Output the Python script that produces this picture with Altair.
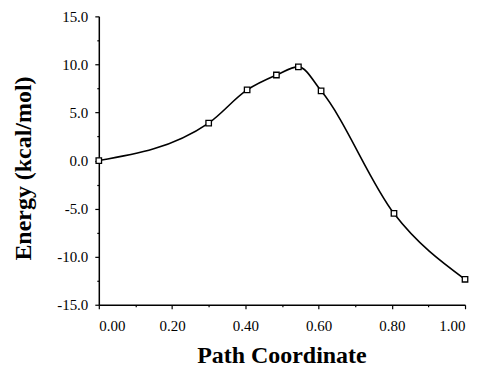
import altair as alt
import pandas as pd

path_coord = [0.00, 0.30, 0.405, 0.485, 0.545, 0.607, 0.806, 1.00]
energy = [0.0, 3.9, 7.35, 8.9, 9.75, 7.25, -5.5, -12.35]

y_major = [-15, -10, -5, 0, 5, 10, 15]
y_minor = [-12.5, -7.5, -2.5, 2.5, 7.5, 12.5]
x_major = [0.0, 0.2, 0.4, 0.6, 0.8, 1.0]
x_minor = [0.1, 0.3, 0.5, 0.7, 0.9]

df = pd.DataFrame({"x": path_coord, "y": energy})

FONT = "Liberation Serif"

xscale = alt.Scale(domain=[0, 1], nice=False, zero=False)
yscale = alt.Scale(domain=[-15, 15], nice=False, zero=False)

x_main = alt.X("x:Q", scale=xscale, axis=alt.Axis(
    values=x_major, format=".2f", title="Path Coordinate",
    titleFont=FONT, titleFontSize=24, titleFontWeight="bold", titleColor="black",
    titleX=183, titleY=51, titleBaseline="middle",
    labelFont=FONT, labelFontSize=15, labelColor="black", labelPadding=10,
    tickSize=4, tickColor="black", domainColor="black", domainWidth=1.5, tickWidth=1.2,
    grid=False))
y_main = alt.Y("y:Q", scale=yscale, axis=alt.Axis(
    values=y_major,
    labelExpr="datum.value < 0 ? '-' + format(-datum.value, '.1f') : format(datum.value, '.1f')",
    title="Energy (kcal/mol)",
    titleFont=FONT, titleFontSize=24, titleFontWeight="bold", titleColor="black",
    titleX=-75, titleY=152, titleBaseline="middle", titleAngle=-90,
    labelFont=FONT, labelFontSize=15, labelColor="black", labelPadding=7,
    tickSize=4, tickColor="black", domainColor="black", domainWidth=1.5, tickWidth=1.2,
    grid=False))

line = alt.Chart(df).mark_line(
    interpolate="monotone", color="black", strokeWidth=1.6
).encode(x=x_main, y=y_main)

pts = alt.Chart(df).mark_point(
    shape="square", size=30, filled=True, fill="white", stroke="black", strokeWidth=1.3, opacity=1
).encode(
    x=alt.X("x:Q", scale=xscale, axis=None),
    y=alt.Y("y:Q", scale=yscale, axis=None),
)

minor = alt.Chart(df).mark_point(opacity=0).encode(
    x=alt.X("x:Q", scale=xscale, axis=alt.Axis(
        values=x_minor, labels=False, title=None, domain=False, tickSize=2,
        tickColor="black", tickWidth=1.2, grid=False, orient="bottom")),
    y=alt.Y("y:Q", scale=yscale, axis=alt.Axis(
        values=y_minor, labels=False, title=None, domain=False, tickSize=2,
        tickColor="black", tickWidth=1.2, grid=False, orient="left")),
)

chart = alt.layer(line, pts, minor).resolve_axis(x="independent", y="independent").properties(
    width=367, height=289,
    autosize=alt.AutoSizeParams(type="none"),
    padding={"left": 91, "top": 8, "right": 10, "bottom": 58},
).configure_view(stroke=None)

chart.save("out.html", embed_options={"renderer": "svg", "actions": False})
